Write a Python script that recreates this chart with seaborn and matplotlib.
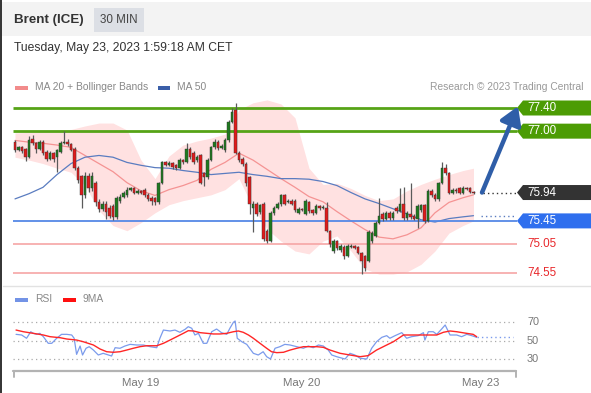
import matplotlib
matplotlib.use('Agg')
import matplotlib.pyplot as plt
from matplotlib.patches import Polygon, Rectangle
from matplotlib.lines import Line2D
import seaborn as sns

# ---- price data (30 min candles, Brent ICE) ----
opens = [76.81, 76.67, 76.72, 76.69, 76.55, 76.86, 76.79, 76.70, 76.82, 76.64,
         76.52, 76.62, 76.55, 76.64, 76.79, 76.82, 76.78, 76.70, 76.37, 76.23,
         75.89, 76.23, 76.01, 76.10, 75.78, 75.66, 75.75, 75.68, 75.71, 75.52,
         75.80, 75.87, 75.89, 75.99, 76.01, 75.94, 75.97, 75.99, 75.90, 75.85,
         75.85, 75.78, 76.10, 76.46, 76.42, 76.45, 76.41, 76.36, 76.50, 76.47,
         76.70, 76.63, 76.50, 76.58, 76.27, 76.20, 76.50, 76.72, 76.81, 76.71,
         76.67, 76.84, 77.16, 77.37, 76.63, 76.52, 76.43, 76.20, 75.67, 75.75,
         75.60, 75.74, 75.28, 75.10, 75.59, 75.68, 75.74, 75.89, 75.78, 75.80,
         75.80, 75.59, 75.66, 75.57, 75.78, 75.64, 75.59, 75.71, 75.67, 75.68,
         75.28, 74.93, 75.10, 74.95, 75.00, 74.84, 75.00, 75.02, 75.00, 74.90,
         74.84, 74.76, 75.10, 75.19, 75.42, 75.57, 75.48, 75.59, 75.50, 75.68,
         75.62, 75.75, 75.50, 75.57, 75.54, 75.49, 75.63, 75.72, 75.45, 75.97,
         75.90, 75.83, 76.10, 76.37, 76.27, 75.94, 75.99, 76.01, 75.94, 76.02,
         76.02, 75.95]
highs = [76.84, 76.75, 76.74, 76.71, 76.91, 76.93, 76.82, 76.85, 76.84, 76.67,
         76.66, 76.64, 76.70, 76.83, 77.00, 76.86, 76.80, 76.72, 76.40, 76.25,
         76.30, 76.27, 76.30, 76.14, 75.82, 75.79, 75.80, 75.72, 75.74, 75.88,
         75.91, 75.96, 76.04, 76.04, 76.03, 76.00, 75.99, 76.02, 75.93, 75.88,
         75.87, 76.13, 76.49, 76.49, 76.48, 76.47, 76.43, 76.53, 76.52, 76.79,
         76.72, 76.65, 76.58, 76.60, 76.30, 76.53, 76.75, 76.86, 76.84, 76.77,
         76.88, 77.19, 77.40, 77.49, 76.66, 76.55, 76.46, 76.22, 75.80, 75.78,
         75.75, 75.77, 75.31, 75.62, 75.71, 75.77, 75.92, 75.91, 75.83, 75.82,
         75.82, 75.69, 75.68, 75.83, 75.80, 75.66, 75.74, 75.73, 75.72, 75.77,
         75.30, 75.13, 75.12, 75.05, 75.03, 75.05, 75.05, 75.04, 75.02, 74.92,
         74.86, 75.29, 75.27, 75.45, 75.85, 75.60, 75.62, 75.62, 75.62, 75.71,
         76.01, 76.03, 75.62, 76.11, 75.57, 75.74, 75.75, 75.75, 76.00, 76.00,
         75.93, 76.13, 76.46, 76.44, 76.30, 76.02, 76.01, 76.03, 76.05, 76.04,
         76.04, 75.97]
lows = [76.64, 76.65, 76.63, 76.48, 76.53, 76.76, 76.62, 76.68, 76.58, 76.49,
        76.50, 76.47, 76.29, 76.62, 76.77, 76.75, 76.65, 76.33, 76.10, 75.68,
        75.85, 75.95, 75.97, 75.70, 75.60, 75.62, 75.48, 75.50, 75.47, 75.49,
        75.76, 75.84, 75.87, 75.96, 75.91, 75.92, 75.91, 75.86, 75.79, 75.73,
        75.73, 75.75, 76.08, 76.39, 76.40, 76.35, 76.33, 76.34, 76.44, 76.45,
        76.52, 76.43, 76.47, 76.08, 76.06, 76.17, 76.48, 76.70, 76.68, 76.69,
        76.64, 76.82, 77.14, 76.60, 76.47, 76.40, 76.06, 75.57, 75.25, 75.53,
        75.57, 75.10, 75.07, 75.08, 75.56, 75.65, 75.71, 75.72, 75.76, 75.72,
        75.61, 75.57, 75.62, 75.55, 75.59, 75.56, 75.57, 75.64, 75.65, 75.25,
        75.00, 74.90, 74.95, 74.92, 74.80, 74.82, 74.98, 74.96, 74.87, 74.53,
        74.58, 74.74, 75.07, 75.17, 75.40, 75.45, 75.46, 75.47, 75.47, 75.59,
        75.60, 75.47, 75.47, 75.49, 75.46, 75.33, 75.60, 75.42, 75.43, 75.87,
        75.80, 75.80, 76.08, 76.24, 75.91, 75.92, 75.93, 75.91, 75.92, 75.98,
        75.93, 75.92]
closes = [76.67, 76.72, 76.66, 76.55, 76.84, 76.79, 76.70, 76.82, 76.62, 76.52,
          76.62, 76.52, 76.67, 76.79, 76.82, 76.78, 76.68, 76.36, 76.15, 75.89,
          76.23, 76.01, 76.23, 75.78, 75.66, 75.75, 75.60, 75.54, 75.52, 75.85,
          75.87, 75.93, 75.99, 76.01, 75.94, 75.97, 75.94, 75.89, 75.82, 75.80,
          75.77, 76.10, 76.46, 76.42, 76.45, 76.38, 76.36, 76.50, 76.47, 76.70,
          76.55, 76.46, 76.55, 76.11, 76.20, 76.50, 76.72, 76.81, 76.71, 76.74,
          76.84, 77.16, 77.33, 76.63, 76.50, 76.43, 76.10, 75.75, 75.75, 75.57,
          75.72, 75.14, 75.10, 75.59, 75.68, 75.74, 75.89, 75.75, 75.80, 75.75,
          75.64, 75.66, 75.64, 75.80, 75.62, 75.59, 75.71, 75.67, 75.69, 75.28,
          75.05, 75.10, 74.98, 75.02, 74.84, 75.02, 75.02, 74.99, 74.90, 74.76,
          74.63, 75.26, 75.24, 75.42, 75.54, 75.48, 75.59, 75.50, 75.59, 75.62,
          75.75, 75.50, 75.59, 75.52, 75.49, 75.71, 75.72, 75.45, 75.97, 75.90,
          75.83, 76.10, 76.37, 76.27, 75.94, 75.99, 75.96, 75.94, 76.02, 76.00,
          75.95, 75.94]

# moving averages / bollinger bands, sampled every 4 candles
ma_idx = [0, 4, 8, 12, 16, 20, 24, 28, 32, 36, 40, 44, 48, 52, 56, 60, 64,
          68, 72, 76, 80, 84, 88, 92, 96, 100, 104, 108, 112, 116, 120, 124, 128, 131]
ma20 = [76.84, 76.81, 76.79, 76.76, 76.72, 76.58, 76.44, 76.30, 76.11, 75.97,
        75.89, 75.99, 76.06, 76.15, 76.34, 76.46, 76.62, 76.50, 76.34, 76.18,
        76.03, 75.87, 75.78, 75.61, 75.45, 75.30, 75.17, 75.14, 75.21, 75.33,
        75.59, 75.77, 75.85, 75.90]
bb_upper = [76.97, 76.98, 77.00, 77.02, 77.03, 77.09, 77.14, 77.14, 77.02, 76.50,
            76.18, 76.57, 76.76, 76.83, 76.88, 76.95, 77.37, 77.49, 77.54, 77.47,
            77.23, 76.36, 76.08, 76.10, 76.01, 75.89, 75.80, 75.83, 75.97, 76.08,
            76.17, 76.25, 76.32, 76.36]
bb_lower = [76.55, 76.50, 76.44, 76.36, 76.29, 76.06, 75.63, 75.37, 75.28, 75.42,
            75.59, 75.73, 75.80, 75.85, 75.90, 75.99, 76.18, 75.68, 75.31, 75.10,
            74.93, 74.88, 75.10, 75.19, 74.93, 74.62, 74.53, 74.53, 74.57, 74.70,
            74.93, 75.24, 75.37, 75.45]
ma50 = [75.83, 75.92, 76.03, 76.25, 76.44, 76.55, 76.58, 76.55, 76.46, 76.41,
        76.37, 76.36, 76.32, 76.29, 76.25, 76.27, 76.29, 76.25, 76.22, 76.18,
        76.18, 76.17, 76.13, 76.06, 75.94, 75.83, 75.75, 75.66, 75.57, 75.47,
        75.43, 75.49, 75.52, 75.54]

# key levels
res_levels = [77.40, 77.00]
pivot_level = 75.45
sup_levels = [75.05, 74.55]

# RSI panel
rsi_idx = [0.3, 1.9, 3.3, 4.5, 5.2, 6.2, 7.1, 8.1, 9.5, 10.5, 11.9, 13.3, 14.8, 16.2,
           16.9, 17.6, 18.6, 19.3, 20.3, 21.2, 22.4, 23.8, 25.2, 26.7, 27.6, 28.6,
           30.0, 31.4, 32.9, 34.8, 36.7, 38.6, 40.5, 41.4, 42.4, 44.3, 45.7, 47.1,
           48.6, 49.5, 50.5, 51.4, 52.4, 53.8, 54.8, 56.2, 57.6, 59.0, 60.5, 61.4,
           62.4, 62.9, 63.5, 64.8, 66.2, 68.1, 69.5, 70.9, 71.9, 73.0, 74.3, 75.7,
           77.1, 78.6, 80.5, 82.4, 83.8, 85.2, 86.7, 88.1, 89.5, 90.5, 91.9, 94.3,
           95.7, 97.1, 98.6, 100.5, 101.9, 103.3, 104.8, 106.2, 107.1, 108.6,
           110.5, 111.9, 113.3, 115.2, 116.7, 117.1, 118.1, 119.5, 120.5, 121.9,
           122.9, 124.3, 126.2, 127.6, 129.1, 130.5, 131.9]
rsi_val = [56.8, 56.1, 52.6, 59.6, 57.9, 56.8, 57.9, 54.3, 47.2, 47.2, 52.6, 56.8, 56.8, 56.1,
           52.6, 35.4, 44.3, 34.7, 41.9, 43.6, 40.0, 34.7, 36.5, 34.7, 33.6, 42.5,
           41.9, 44.3, 46.1, 45.4, 45.4, 43.6, 42.5, 52.6, 61.4, 60.4, 61.4, 59.0,
           62.2, 65.0, 63.3, 56.1, 57.9, 47.2, 47.2, 59.6, 62.5, 58.6, 56.8, 63.3,
           69.7, 71.1, 52.6, 48.9, 46.1, 36.5, 34.7, 38.2, 32.9, 30.4, 41.9, 43.6,
           46.1, 45.4, 43.6, 41.9, 44.3, 42.5, 45.4, 44.3, 40.0, 34.7, 32.9, 30.4,
           36.5, 34.7, 31.2, 30.4, 41.9, 48.9, 53.6, 55.4, 52.6, 55.4,
           58.6, 52.6, 54.3, 55.4, 58.6, 50.7, 59.6, 59.6, 56.8, 62.5,
           66.8, 56.1, 56.1, 54.3, 56.8, 55.4, 53.6]
ma9_idx = [0.3, 2.4, 5.2, 8.1, 10.0, 12.9, 14.8, 17.6, 19.5, 22.4, 24.3, 26.2, 28.1,
           30.0, 31.9, 33.8, 35.7, 37.6, 40.5, 42.4, 44.3, 46.2, 48.1, 49.5, 51.0,
           52.9, 54.8, 56.7, 58.6, 60.5, 62.4, 63.8, 65.2, 66.7, 68.1, 70.0, 71.9,
           73.3, 74.8, 76.7, 78.6, 80.5, 82.4, 86.2, 88.1, 90.0, 92.9, 95.7, 98.6,
           100.9, 103.3, 106.2, 108.1, 111.0, 114.8, 120.5, 122.4, 124.3, 126.2,
           129.0, 130.9, 131.9]
ma9_val = [61.4, 59.6, 57.9, 56.1, 54.3, 53.2, 51.8, 50.7, 48.9, 45.4, 41.1, 38.2, 37.6,
           38.2, 40.0, 41.9, 43.6, 44.6, 44.6, 47.2, 50.7, 54.3, 57.9, 60.7, 60.4,
           58.6, 57.9, 57.2, 57.2, 57.9, 59.6, 60.4, 59.0, 56.1, 52.6, 47.2, 41.9,
           38.2, 37.2, 37.6, 40.0, 41.9, 43.6, 43.6, 42.9, 40.0, 36.5, 34.7, 32.9,
           34.0, 40.0, 45.4, 48.9, 56.1, 56.1, 56.1, 59.0, 60.4, 59.6,
           57.9, 56.8, 54.3]
rsi_grid = [70, 50, 30]

date_labels = ['May 19', 'May 20', 'May 23']
date_pos = [36, 82, 133]

# ---- layout helpers (pixel based) ----
W, H = 591, 393
X0, DX = 15, 3.5          # pixel x of first candle, pixels per candle
PPU = 57.9                # pixels per price unit


def fx(px):
    return px / W


def fy(py):
    return 1 - py / H


def xi(px):
    return (px - X0) / DX


sns.set_style('white')
plt.rcParams['font.family'] = ['Liberation Sans', 'DejaVu Sans']

fig = plt.figure(figsize=(W / 100, H / 100), dpi=100)

# header
fig.add_artist(Rectangle((fx(2), fy(36)), 1, 34 / H, transform=fig.transFigure,
                         fc='#f3f3f3', ec='none'))
fig.add_artist(Rectangle((fx(94), fy(32)), 50 / W, 24 / H, transform=fig.transFigure,
                         fc='#dcdfe5', ec='none'))
fig.text(fx(14), fy(20), 'Brent (ICE)', fontsize=9.6, fontweight='bold', color='#333333',
         va='center')
fig.text(fx(119), fy(20), '30 MIN', fontsize=8.4, color='#444444', va='center', ha='center')
fig.text(fx(14), fy(48), 'Tuesday, May 23, 2023 1:59:18 AM CET', fontsize=8.7,
         color='#333333', va='center')
fig.add_artist(Line2D([fx(1), fx(1)], [0, 1], color='#222222', lw=1.3))
fig.add_artist(Line2D([fx(3), 1], [fy(285.5), fy(285.5)], color='#e2e2e2', lw=1))

# legend of main panel
fig.add_artist(Rectangle((fx(15), fy(89.5)), 13 / W, 4 / H, transform=fig.transFigure,
                         fc='#f28b8b', ec='none'))
fig.text(fx(35), fy(87.5), 'MA 20 + Bollinger Bands', fontsize=7.4, color='#888888', va='center')
fig.add_artist(Rectangle((fx(158), fy(89.5)), 12 / W, 4 / H, transform=fig.transFigure,
                         fc='#3a5ea8', ec='none'))
fig.text(fx(177), fy(87.5), 'MA 50', fontsize=7.4, color='#888888', va='center')
fig.text(fx(583), fy(87.5), 'Research \u00a9 2023 Trading Central', fontsize=7.4,
         color='#999999', va='center', ha='right')

# ---- main price panel ----
ax = fig.add_axes([0, fy(285), 1, (285 - 95) / H])
ax.set_xlim(xi(0), xi(W))
ax.set_ylim(74.55 - 12 / PPU, 77.40 + 13 / PPU)
ax.axis('off')

ax.fill_between(ma_idx, bb_lower, bb_upper, color='#ffe1e1', lw=0, zorder=1)
sns.lineplot(x=ma_idx, y=ma20, ax=ax, color='#f59393', lw=0.9, zorder=2)
sns.lineplot(x=ma_idx, y=ma50, ax=ax, color='#5a7cc0', lw=0.9, zorder=2)

x_lo, x_hi = xi(13), xi(517)
ax.hlines(res_levels, x_lo, x_hi, colors='#56a316', lw=2.0, zorder=2)
ax.hlines(pivot_level, x_lo, x_hi, colors='#5588e6', lw=1.3, zorder=2)
ax.hlines(sup_levels, x_lo, x_hi, colors='#f6a5a5', lw=1.2, zorder=2)

# candles
idx = list(range(len(closes)))
bottoms = [min(o, c) for o, c in zip(opens, closes)]
heights = [max(abs(c - o), 0.012) for o, c in zip(opens, closes)]
colors = ['#1f7a1f' if c >= o else '#e01b1b' for o, c in zip(opens, closes)]
ax.vlines(idx, lows, highs, colors='#5a5a5a', lw=0.9, zorder=3)
ax.bar(idx, heights, bottom=bottoms, width=0.72, color=colors, edgecolor='#333333',
       lw=0.3, zorder=4)

# dotted extensions to tags
last = closes[-1]
ax.hlines(last, xi(483), xi(516), colors='#333333', linestyles=(0, (1, 2.2)), lw=1, zorder=3)
ax.hlines(ma50[-1], xi(481), xi(516), colors='#5a7cc0', linestyles=(0, (1, 2.2)), lw=1, zorder=3)

# target arrow
ax.annotate('', xy=(xi(518), res_levels[0] + 0.03), xytext=(xi(482), last),
            arrowprops=dict(arrowstyle='-|>,head_length=0.9,head_width=0.55', lw=3.2,
                            color='#2f5ea8', shrinkA=0, shrinkB=0, mutation_scale=12),
            zorder=6)

# price tags
hh = 7.5 / PPU


def tag(v, fc):
    pts = [(xi(517), v), (xi(523), v + hh), (xi(W + 5), v + hh),
           (xi(W + 5), v - hh), (xi(523), v - hh)]
    ax.add_patch(Polygon(pts, closed=True, fc=fc, ec='none', zorder=5, clip_on=False))
    ax.text(xi(527.5), v, f'{v:.2f}', color='white', fontsize=8.4, va='center', ha='left',
            zorder=6)


for lv in res_levels:
    tag(lv, '#4c9c04')
tag(last, '#333333')
tag(pivot_level, '#2f6fee')
for lv in sup_levels:
    ax.text(xi(527.5), lv, f'{lv:.2f}', color='#e8282c', fontsize=8.4, va='center', ha='left')

# ---- RSI panel ----
fig.add_artist(Rectangle((fx(15), fy(301.5)), 13 / W, 4 / H, transform=fig.transFigure,
                         fc='#7393e6', ec='none'))
fig.text(fx(35), fy(299.5), 'RSI', fontsize=7.4, color='#888888', va='center')
fig.add_artist(Rectangle((fx(63), fy(301.5)), 13 / W, 4 / H, transform=fig.transFigure,
                         fc='#ff1010', ec='none'))
fig.text(fx(83), fy(299.5), '9MA', fontsize=7.4, color='#888888', va='center')

ax2 = fig.add_axes([0, fy(371), 1, (371 - 300) / H])
ax2.set_xlim(xi(0), xi(W))
ax2.set_ylim(50 - (371 - 340.7) * 1.07, 50 + (340.7 - 300) * 1.07)
ax2.axis('off')

ax2.hlines(rsi_grid, xi(13), xi(516), colors='#aaaaaa', linestyles=(0, (1, 2.6)), lw=0.9)
for g in rsi_grid:
    ax2.text(xi(527), g, str(g), fontsize=7.8, color='#777777', va='center', ha='left')

sns.lineplot(x=rsi_idx, y=rsi_val, ax=ax2, color='#7b9bec', lw=0.9, zorder=3)
sns.lineplot(x=ma9_idx, y=ma9_val, ax=ax2, color='#ff2626', lw=1.0, zorder=4)
ax2.hlines(rsi_val[-1], rsi_idx[-1], xi(513), colors='#7b9bec', linestyles=(0, (1, 2.2)), lw=1)

# time axis
fig.add_artist(Line2D([fx(13), fx(516)], [fy(371), fy(371)], color='#b3b3b3', lw=1.6))
for px in (13.5, 515.5):
    fig.add_artist(Line2D([fx(px), fx(px)], [fy(371), fy(377)], color='#b3b3b3', lw=1.4))
for lab, pos in zip(date_labels, date_pos):
    ax2.text(pos, -0.17, lab, transform=ax2.get_xaxis_transform(), ha='center', va='center',
             fontsize=8.2, color='#777777')

fig.savefig('out.png', dpi=100)
